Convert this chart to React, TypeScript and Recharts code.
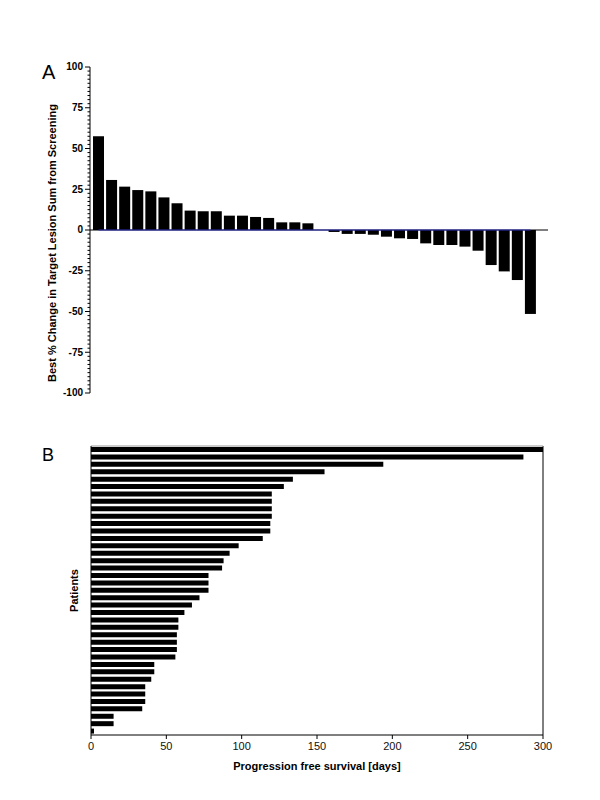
import { BarChart, Bar, XAxis, YAxis, ReferenceLine, Label } from "recharts";

// Panel A: best % change in target lesion sum, one bar per patient (waterfall)
const changeValues = [
  57.5, 30.7, 26.6, 24.5, 23.7, 20, 16.4, 11.9, 11.5, 11.5, 8.8, 8.8, 8, 7.4, 4.7, 4.7, 4.1,
  0,
  -1.2, -2.4, -2.4, -2.9, -4.1, -5.1, -5.5, -8.2, -9.2, -9.2, -10.2, -12.7, -21.5, -25.4, -30.7, -51.5,
];
const changeLabels = [-100, -75, -50, -25, 0, 25, 50, 75, 100];

// Panel B: progression free survival in days, one bar per patient
const pfsDays = [
  300, 287, 194, 155, 134, 128, 120, 120, 120, 120, 119, 119, 114, 98, 92, 88, 87, 78, 78, 78,
  72, 67, 62, 58, 58, 57, 57, 57, 56, 42, 42, 40, 36, 36, 36, 34, 15, 15, 2,
];
const pfsTicks = [0, 50, 100, 150, 200, 250, 300];

const changeData = changeValues.map((v, i) => ({ patient: String(i + 1), change: v }));
const pfsData = pfsDays.map((v, i) => ({ patient: "P" + (i + 1), days: v }));

// minor ticks every 2.5 on the % axis
const changeTicks: number[] = [];
for (let t = -100; t <= 100; t += 2.5) changeTicks.push(t);

const font = "'Liberation Sans', Arial, sans-serif";
const narrow = "'Liberation Sans Narrow', 'Arial Narrow', 'Liberation Sans', sans-serif";

const ChangeTick = (props: any) => {
  const { x, y, payload } = props;
  const v = payload.value;
  const major = changeLabels.includes(v);
  return (
    <g>
      <line x1={x} x2={x - (major ? 5 : 2.5)} y1={y} y2={y} stroke="#000" strokeWidth={1} />
      {major && (
        <text
          x={x - 7}
          y={y}
          dy={3.3}
          textAnchor="end"
          fontFamily={narrow}
          fontWeight="bold"
          fontSize={10}
          fill="#000"
        >
          {v}
        </text>
      )}
    </g>
  );
};

const sideTitle = (text: string, dx: number, dy: number) => (props: any) => {
  const { x, y, height } = props.viewBox;
  const cx = x + dx;
  const cy = y + height / 2 + dy;
  return (
    <text
      x={cx}
      y={cy}
      transform={`rotate(-90, ${cx}, ${cy})`}
      textAnchor="middle"
      dominantBaseline="central"
      fontFamily={font}
      fontWeight="bold"
      fontSize={11}
      fill="#000"
    >
      {text}
    </text>
  );
};

const letterStyle: React.CSSProperties = {
  position: "absolute",
  fontFamily: font,
  lineHeight: 1,
  color: "#000",
};

const App = () => {
  return (
    <div style={{ position: "absolute", left: 0, top: 0, width: 600, height: 800, background: "#fff" }}>
      <div style={{ ...letterStyle, left: 42, top: 62, fontSize: 20 }}>A</div>
      <div style={{ ...letterStyle, left: 42, top: 446, fontSize: 18 }}>B</div>

      <div style={{ position: "absolute", left: 0, top: 0 }}>
        <BarChart
          width={600}
          height={400}
          data={changeData}
          margin={{ top: 67, right: 52, left: 50, bottom: 7 }}
          barSize={11}
        >
          <XAxis dataKey="patient" hide height={0} padding={{ left: 2, right: 11 }} />
          <YAxis
            type="number"
            domain={[-100, 100]}
            ticks={changeTicks}
            interval={0}
            width={40}
            tickSize={0}
            tickMargin={0}
            tickLine={false}
            tick={<ChangeTick />}
            axisLine={{ stroke: "#000" }}
          >
            <Label content={sideTitle("Best % Change in Target Lesion Sum from Screening", 2, 13)} />
          </YAxis>
          <ReferenceLine y={0} stroke="#000" />
          <ReferenceLine
            segment={[
              { x: changeData[0].patient, y: 0 },
              { x: changeData[changeData.length - 1].patient, y: 0 },
            ]}
            stroke="#3030c0"
          />
          <Bar dataKey="change" fill="#000" isAnimationActive={false} />
        </BarChart>
      </div>

      <div style={{ position: "absolute", left: 0, top: 400 }}>
        <BarChart
          width={600}
          height={400}
          data={pfsData}
          layout="vertical"
          margin={{ top: 46, right: 57, left: 71, bottom: 25 }}
          barSize={5}
        >
          <XAxis
            type="number"
            domain={[0, 300]}
            ticks={pfsTicks}
            height={40}
            tickSize={4}
            tickMargin={3}
            axisLine={{ stroke: "#000" }}
            tickLine={{ stroke: "#000" }}
            tick={{ fontFamily: font, fontSize: 11, fill: "#111" }}
          >
            <Label
              value="Progression free survival [days]"
              position="insideBottom"
              offset={5}
              style={{ fontFamily: font, fontWeight: "bold", fontSize: 11, fill: "#000" }}
            />
          </XAxis>
          <YAxis
            type="category"
            dataKey="patient"
            width={20}
            tick={false}
            tickLine={false}
            axisLine={{ stroke: "#000" }}
          >
            <Label content={sideTitle("Patients", 3, 0)} />
          </YAxis>
          <ReferenceLine x={300} stroke="#000" />
          <ReferenceLine y={pfsData[0].patient} position="start" stroke="#999" />
          <Bar dataKey="days" fill="#000" isAnimationActive={false} />
        </BarChart>
      </div>
    </div>
  );
};

export default App;
